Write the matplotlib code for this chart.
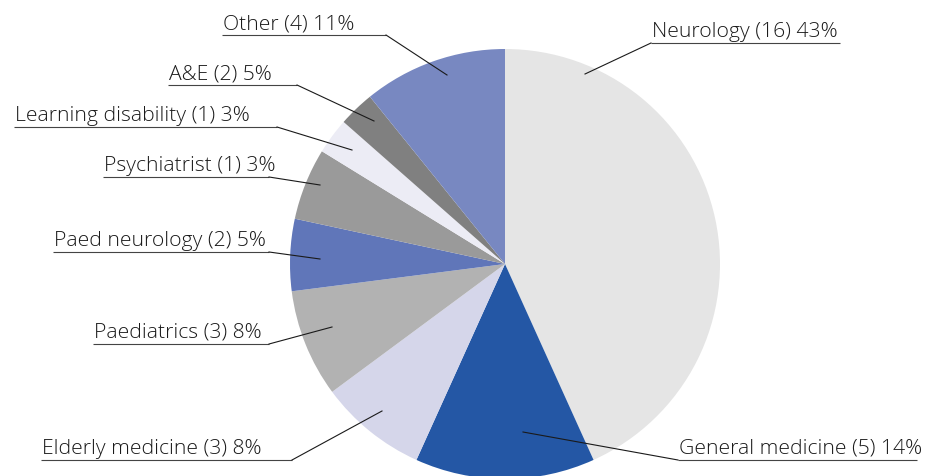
import matplotlib.pyplot as plt

# Referral sources - drawn clockwise from 12 o'clock
categories = ['Neurology', 'General medicine', 'Elderly medicine', 'Paediatrics',
              'Paed neurology', 'Psychiatrist', 'Learning disability', 'A&E', 'Other']
# wedge sizes as drawn in the source figure
wedge_sizes = [16, 5, 3, 3, 2, 2, 1, 1, 4]
# counts / percentages as printed in the labels
label_counts = [16, 5, 3, 3, 2, 1, 1, 2, 4]
percents = [43, 14, 8, 8, 5, 3, 3, 5, 11]
colors = ['#e5e5e5', '#2457a5', '#d5d6ea', '#b2b2b2', '#6076b9',
          '#9a9a9a', '#ececf5', '#808080', '#7888c1']

W, H = 927, 477

# label layout in pixel coords: (underline x0, underline x1, underline y, anchor x, anchor y)
# the elbow sits at the end of the underline nearest the pie
label_layout = [
    (651, 840, 44, 585, 75),
    (678, 917, 461, 523, 433),
    (41, 292, 461, 382, 412),
    (93, 269, 345, 332, 328),
    (53, 269, 253, 320, 260),
    (103, 269, 178, 320, 186),
    (14, 277, 128, 352, 151),
    (168, 297, 86, 374, 122),
    (222, 386, 36, 447, 76),
]

fig = plt.figure(figsize=(W / 100, H / 100), dpi=100)
ax = fig.add_axes([0, 0, 1, 1])

ax.pie(wedge_sizes, colors=colors, startangle=90, counterclock=False,
       center=(505, H - 265), radius=215, frame=True,
       wedgeprops=dict(linewidth=0))
ax.set_xlim(0, W)
ax.set_ylim(0, H)
ax.set_aspect('equal')
ax.axis('off')

for name, n, pct, (x0, x1, uy, axp, ayp) in zip(categories, label_counts, percents, label_layout):
    uy_d = H - uy
    ax.plot([x0, x1], [uy_d, uy_d], color='#444444', lw=0.8, solid_capstyle='butt')
    ex = x1 if abs(x1 - 505) < abs(x0 - 505) else x0
    ax.plot([ex, axp], [uy_d, H - ayp], color='#1a1a1a', lw=0.8)
    ax.text(x0 + 1, uy_d + 7, f'{name} ({n}) {pct}%', fontsize=15.2,
            family='Open Sans', fontweight='light', color='#1a1a1a',
            ha='left', va='baseline')

fig.savefig('out.png', dpi=100)
